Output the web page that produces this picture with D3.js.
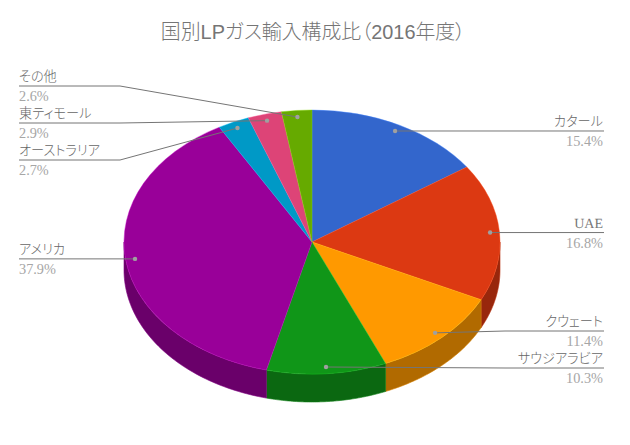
<!DOCTYPE html>
<html>
<head>
<meta charset="utf-8">
<script src="https://cdn.jsdelivr.net/npm/d3@7/dist/d3.min.js"></script>
<style>
  html, body { margin: 0; padding: 0; background: #fff; }
  svg { display: block; }
  .title { font-family: "Liberation Sans", "Noto Sans CJK JP", sans-serif; font-size: 19.9px; font-weight: 300; fill: #757575; font-feature-settings: "palt"; }
  .name { font-family: "Liberation Serif", "Noto Sans CJK JP", serif; font-size: 13.2px; font-weight: 300; fill: #666; font-feature-settings: "palt"; }
  .name.latin { font-size: 14px; font-weight: 400; fill: #777; text-rendering: geometricPrecision; }
  .pct { font-family: "Liberation Serif", serif; font-size: 14.3px; fill: #a6a6a6; }
</style>
</head>
<body>
<div id="chart"></div>
<script>
var titleText = '国別LPガス輸入構成比（2016年度）';
var countries = ['カタール', 'UAE', 'クウェート', 'サウジアラビア', 'アメリカ', 'オーストラリア', '東ティモール', 'その他'];
var shares = [15.4, 16.8, 11.4, 10.3, 37.9, 2.7, 2.9, 2.6];
var colors = ['#3366cc', '#dc3912', '#ff9900', '#109618', '#990099', '#0099c6', '#dd4477', '#66aa00'];
var sides = ['right', 'right', 'right', 'right', 'left', 'left', 'left', 'left'];
// y of the horizontal part of each leader, null = straight out from the dot
var leaderY = [null, null, 331, 368, null, 160, 123, 86];

var width = 630, height = 445;
var cx = 312, cy = 242, rx = 188, ry = 132, depth = 28;
var tilt = ry / rx;
var leftEdge = 19, rightEdge = 604;

var svg = d3.select('#chart').append('svg')
  .attr('width', width)
  .attr('height', height);

svg.append('text')
  .attr('class', 'title')
  .attr('x', 313)
  .attr('y', 39)
  .attr('text-anchor', 'middle')
  .text(titleText);

var arcs = d3.pie().sort(null)(shares);
var arc = d3.arc().innerRadius(0).outerRadius(rx);

function px(a, r) { return cx + r * rx * Math.sin(a); }
function py(a, r) { return cy - r * ry * Math.cos(a); }

// front wall, only the part of the rim facing the viewer
var wallLine = d3.line();
var walls = arcs.filter(function(d) {
  return d.endAngle > Math.PI / 2 && d.startAngle < 3 * Math.PI / 2;
});

svg.selectAll('path.wall')
  .data(walls).enter().append('path')
  .attr('class', 'wall')
  .attr('d', function(d) {
    var a0 = Math.max(d.startAngle, Math.PI / 2),
      a1 = Math.min(d.endAngle, 3 * Math.PI / 2),
      pts = d3.range(0, 61).map(function(i) { return a0 + (a1 - a0) * i / 60; }),
      top = pts.map(function(a) { return [px(a, 1), py(a, 1)]; }),
      bottom = pts.reverse().map(function(a) { return [px(a, 1), py(a, 1) + depth]; });
    return wallLine(top.concat(bottom)) + 'Z';
  })
  .attr('fill', function(d) { return d3.color(colors[d.index]).darker(1.03); })
  .attr('stroke', function(d) { return d3.color(colors[d.index]).darker(0.5); })
  .attr('stroke-width', 0.6);

svg.selectAll('path.slice')
  .data(arcs).enter().append('path')
  .attr('class', 'slice')
  .attr('d', arc)
  .attr('transform', 'translate(' + cx + ',' + cy + ') scale(1,' + tilt + ')')
  .attr('fill', function(d) { return colors[d.index]; })
  .attr('stroke', function(d) { return d3.color(colors[d.index]).brighter(0.7); })
  .attr('stroke-width', 0.5);

var labels = svg.selectAll('g.label')
  .data(arcs).enter().append('g')
  .attr('class', 'label');

labels.append('polyline')
  .attr('fill', 'none')
  .attr('stroke', '#757575')
  .attr('stroke-width', 1)
  .attr('points', function(d) {
    var mid = (d.startAngle + d.endAngle) / 2,
      x = px(mid, 0.95),
      y = py(mid, 0.95),
      ly = leaderY[d.index] === null ? y : leaderY[d.index],
      end = sides[d.index] === 'right' ? rightEdge : leftEdge,
      knee = sides[d.index] === 'right' ? 505 : 120;
    return [[x, y], [knee, ly], [end, ly]].join(' ');
  });

labels.append('circle')
  .attr('cx', function(d) { return px((d.startAngle + d.endAngle) / 2, 0.95); })
  .attr('cy', function(d) { return py((d.startAngle + d.endAngle) / 2, 0.95); })
  .attr('r', 2.2)
  .attr('fill', '#a0a0a0');

function lineY(d) {
  var mid = (d.startAngle + d.endAngle) / 2;
  return leaderY[d.index] === null ? py(mid, 0.95) : leaderY[d.index];
}

labels.append('text')
  .attr('class', function(d) { return /^[A-Z]+$/.test(countries[d.index]) ? 'name latin' : 'name'; })
  .attr('x', function(d) { return sides[d.index] === 'right' ? rightEdge - 1 : leftEdge; })
  .attr('y', function(d) { return Math.round(lineY(d) - 5); })
  .attr('text-anchor', function(d) { return sides[d.index] === 'right' ? 'end' : 'start'; })
  .text(function(d) { return countries[d.index]; });

labels.append('text')
  .attr('class', 'pct')
  .attr('x', function(d) { return sides[d.index] === 'right' ? rightEdge - 1 : leftEdge; })
  .attr('y', function(d) { return Math.round(lineY(d) + 15); })
  .attr('text-anchor', function(d) { return sides[d.index] === 'right' ? 'end' : 'start'; })
  .text(function(d) { return shares[d.index].toFixed(1) + '%'; });
</script>
</body>
</html>
